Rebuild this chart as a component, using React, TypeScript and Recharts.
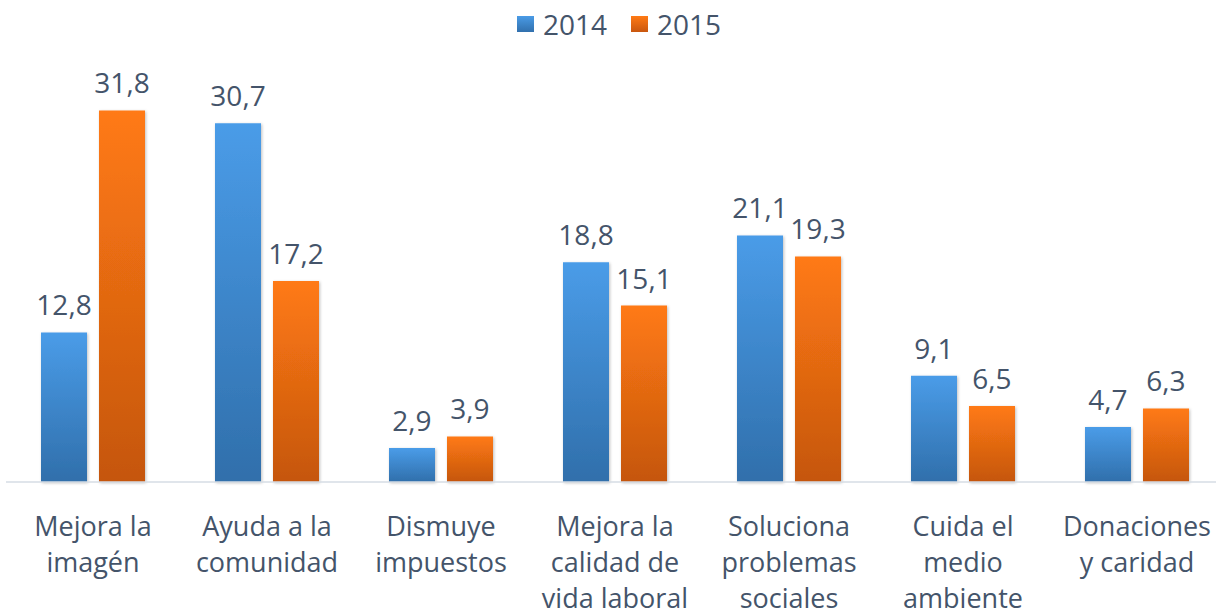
import React from "react";
import { BarChart, Bar, XAxis, YAxis, LabelList } from "recharts";

const categories = [
  "Mejora la imagén",
  "Ayuda a la comunidad",
  "Dismuye impuestos",
  "Mejora la calidad de vida laboral",
  "Soluciona problemas sociales",
  "Cuida el medio ambiente",
  "Donaciones y caridad",
];
const tickLines = [
  ["Mejora la", "imagén"],
  ["Ayuda a la", "comunidad"],
  ["Dismuye", "impuestos"],
  ["Mejora la", "calidad de", "vida laboral"],
  ["Soluciona", "problemas", "sociales"],
  ["Cuida el", "medio", "ambiente"],
  ["Donaciones", "y caridad"],
];
const seriesNames = ["2014", "2015"];
const values2014 = [12.8, 30.7, 2.9, 18.8, 21.1, 9.1, 4.7];
const values2015 = [31.8, 17.2, 3.9, 15.1, 19.3, 6.5, 6.3];

const data = categories.map((c, i) => ({
  name: c,
  y2014: values2014[i],
  y2015: values2015[i],
}));

const FONT = "'Open Sans', sans-serif";
const TEXT = "#44546A";

const fmt = (v: any) => String(v).replace(".", ",");

const Tick = (props: any) => {
  const { x, y, payload } = props;
  const lines = tickLines[payload.index] || [payload.value];
  return (
    <text
      x={x}
      y={y}
      textAnchor="middle"
      fill={TEXT}
      fontFamily={FONT}
      fontSize={27}
    >
      {lines.map((l: string, i: number) => (
        <tspan key={i} x={x} dy={i === 0 ? 54 : 36}>
          {l}
        </tspan>
      ))}
    </text>
  );
};

const LegendBox = () => (
  <div
    style={{
      position: "absolute",
      top: 10,
      left: 517,
      display: "flex",
      alignItems: "center",
      fontFamily: FONT,
      fontSize: 28,
      lineHeight: "28px",
      color: TEXT,
      whiteSpace: "nowrap",
    }}
  >
    <span
      style={{
        width: 17,
        height: 16,
        background: "linear-gradient(#4A9BE6, #3170AD)",
        display: "inline-block",
        marginRight: 9,
      }}
    />
    <span>{seriesNames[0]}</span>
    <span
      style={{
        width: 17,
        height: 16,
        background: "linear-gradient(#FF7A14, #C9570F)",
        display: "inline-block",
        marginLeft: 24,
        marginRight: 9,
      }}
    />
    <span>{seriesNames[1]}</span>
  </div>
);

export default function App() {
  return (
    <div
      style={{
        position: "fixed",
        left: 0,
        top: 0,
        width: 1216,
        height: 615,
        overflow: "hidden",
        background: "#fff",
      }}
    >
      <BarChart
        width={1224}
        height={615}
        data={data}
        margin={{ top: 73, right: 0, left: 6, bottom: 13 }}
        barCategoryGap={35}
        barGap={12}
      >
        <defs>
          <linearGradient id="gBlue" x1="0" y1="0" x2="0" y2="1">
            <stop offset="0%" stopColor="#4A9CE8" />
            <stop offset="100%" stopColor="#306FAB" />
          </linearGradient>
          <linearGradient id="gOrange" x1="0" y1="0" x2="0" y2="1">
            <stop offset="0%" stopColor="#FF7A14" />
            <stop offset="100%" stopColor="#C5560E" />
          </linearGradient>
          <filter id="shadow" x="-20%" y="-5%" width="140%" height="115%">
            <feDropShadow dx="1" dy="1" stdDeviation="1.5" floodColor="#000" floodOpacity="0.25" />
          </filter>
        </defs>
        <XAxis
          dataKey="name"
          interval={0}
          tickLine={false}
          tickSize={0}
          tickMargin={0}
          height={120}
          axisLine={{ stroke: "#D6DCE4", strokeWidth: 1.5 }}
          tick={<Tick />}
        />
        <YAxis hide domain={[0, 35]} />
        <Bar
          dataKey="y2014"
          name={seriesNames[0]}
          fill="url(#gBlue)"
          barSize={46}
          isAnimationActive={false}
          filter="url(#shadow)"
        >
          <LabelList
            dataKey="y2014"
            position="top"
            offset={17}
            formatter={fmt}
            fill={TEXT}
            fontFamily={FONT}
            fontSize={28}
          />
        </Bar>
        <Bar
          dataKey="y2015"
          name={seriesNames[1]}
          fill="url(#gOrange)"
          barSize={46}
          isAnimationActive={false}
          filter="url(#shadow)"
        >
          <LabelList
            dataKey="y2015"
            position="top"
            offset={17}
            formatter={fmt}
            fill={TEXT}
            fontFamily={FONT}
            fontSize={28}
          />
        </Bar>
      </BarChart>
      <LegendBox />
    </div>
  );
}
